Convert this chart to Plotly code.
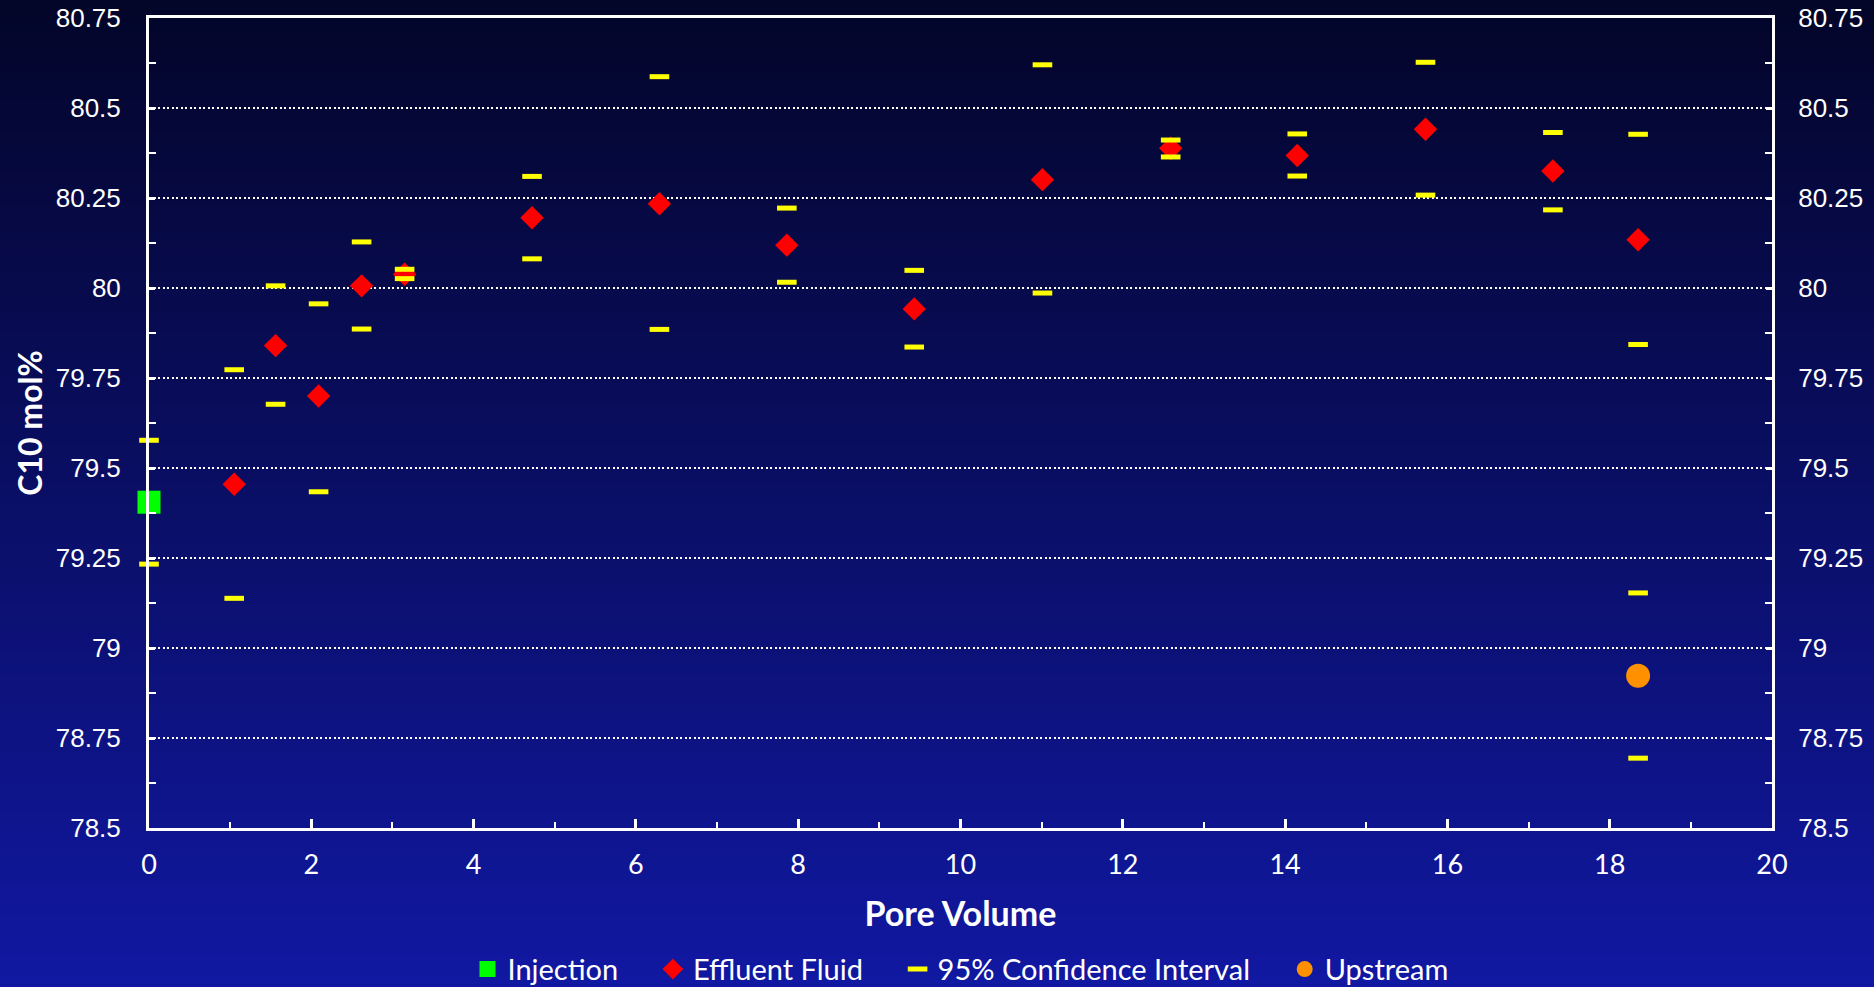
import plotly.graph_objects as go

# ---- data ----
inj_x = [0]
inj_y = [79.405]

eff_x = [1.05, 1.56, 2.09, 2.62, 3.15, 4.72, 6.29, 7.86, 9.43, 11.01, 12.59, 14.15, 15.73, 17.30, 18.35]
eff_y = [79.455, 79.84, 79.70, 80.006, 80.038, 80.195, 80.234, 80.119, 79.942, 80.301, 80.388, 80.368, 80.441, 80.325, 80.134]

ci_x = [0, 0, 1.05, 1.05, 1.56, 1.56, 2.09, 2.09, 2.62, 2.62, 3.15, 3.15, 4.72, 4.72, 6.29, 6.29,
        7.86, 7.86, 9.43, 9.43, 11.01, 11.01, 12.59, 12.59, 14.15, 14.15, 15.73, 15.73, 17.30, 17.30,
        18.35, 18.35, 18.35, 18.35]
ci_y = [79.577, 79.233, 79.773, 79.138, 80.006, 79.677, 79.956, 79.434, 80.128, 79.886, 80.052, 80.026,
        80.310, 80.081, 80.587, 79.885, 80.222, 80.016, 80.049, 79.836, 80.620, 79.986, 80.411, 80.364,
        80.428, 80.311, 80.627, 80.258, 80.432, 80.217, 80.427, 79.843, 79.153, 78.694]

ups_x = [18.35]
ups_y = [78.923]

y_tickvals = [78.5, 78.75, 79, 79.25, 79.5, 79.75, 80, 80.25, 80.5, 80.75]
y_ticktext = ["78.5", "78.75", "79", "79.25", "79.5", "79.75", "80", "80.25", "80.5", "80.75"]
x_tickvals = [0, 2, 4, 6, 8, 10, 12, 14, 16, 18, 20]

PAD = "\u00a0" * 4

fig = go.Figure()

fig.add_trace(go.Scatter(x=inj_x, y=inj_y, mode="markers", name="Injection" + PAD, cliponaxis=False,
                         marker=dict(symbol="square", size=23, color="#00ff00")))
fig.add_trace(go.Scatter(x=eff_x, y=eff_y, mode="markers", name="Effluent Fluid" + PAD, cliponaxis=False,
                         marker=dict(symbol="diamond", size=18, color="#ff0000")))
fig.add_trace(go.Scatter(x=ci_x, y=ci_y, mode="markers", name="95% Confidence Interval" + PAD, cliponaxis=False,
                         marker=dict(symbol="line-ew", size=14, color="#ffff00",
                                     line=dict(color="#ffff00", width=5))))
fig.add_trace(go.Scatter(x=ups_x, y=ups_y, mode="markers", name="Upstream", cliponaxis=False,
                         marker=dict(symbol="circle", size=24, color="#ff9000")))
# invisible trace for the right axis
fig.add_trace(go.Scatter(x=[None], y=[None], yaxis="y2", showlegend=False, hoverinfo="skip"))

# ---- gradient background via stacked bands (paper coords cover the whole page) ----
H_PLOT = 987 - 18 - 159
top = (3, 5, 40)
bot = (17, 24, 162)
n = 100
y_top = 1 + 18 / H_PLOT + 0.01
y_bot = -159 / H_PLOT - 0.01
shapes = []
for i in range(n):
    t = i / (n - 1)
    c = tuple(round(top[k] + (bot[k] - top[k]) * t) for k in range(3))
    y1 = y_top - (y_top - y_bot) * i / n + 0.001
    y0 = y_top - (y_top - y_bot) * (i + 1) / n - 0.001
    if i == 0:
        y1 += 0.05
    if i == n - 1:
        y0 -= 0.05
    shapes.append(dict(type="rect", xref="paper", yref="paper", x0=-0.2, x1=1.2, y0=y0, y1=y1,
                       fillcolor="rgb(%d,%d,%d)" % c, line=dict(width=0), layer="below"))

tick_font_y = dict(family="Liberation Sans, Arial, sans-serif", size=26, color="white")
minor_y = dict(dtick=0.125, ticks="inside", ticklen=7, tickwidth=2, tickcolor="white", showgrid=False)

fig.update_layout(
    width=1874, height=987,
    margin=dict(l=149, r=102, t=18, b=159, autoexpand=False),
    paper_bgcolor="rgb(10,14,100)",
    plot_bgcolor="rgba(0,0,0,0)",
    shapes=shapes,
    showlegend=True,
    legend=dict(orientation="h", x=0.5, xanchor="center", yref="container", y=0.018, yanchor="middle",
                font=dict(family="Lato, sans-serif", size=29, color="white"),
                bgcolor="rgba(0,0,0,0)", itemwidth=30, tracegroupgap=0),
    xaxis=dict(range=[0, 20], tickvals=x_tickvals, showline=True, linecolor="white", linewidth=3,
               mirror=True, ticks="inside", ticklen=9, tickwidth=3, tickcolor="white",
               minor=dict(dtick=1, ticks="inside", ticklen=6, tickwidth=2, tickcolor="white", showgrid=False),
               showgrid=False, zeroline=False, automargin=False,
               tickfont=dict(family="Lato, sans-serif", size=27, color="white"),
               ticklabelstandoff=11,
               title=dict(text="<b>Pore Volume</b>", font=dict(family="Lato, sans-serif", size=34, color="white"),
                          standoff=23)),
    yaxis=dict(range=[78.5, 80.75], tickvals=y_tickvals, ticktext=y_ticktext, showline=True,
               linecolor="white", linewidth=3, ticks="inside", ticklen=6, tickwidth=3, tickcolor="white",
               minor=minor_y, automargin=False,
               showgrid=True, gridcolor="white", gridwidth=2, griddash="2px,2.5px", zeroline=False,
               tickfont=tick_font_y, ticklabelstandoff=20,
               title=dict(text="<b>C10 mol%</b>", font=dict(family="Lato, sans-serif", size=32, color="white"),
                          standoff=4)),
    yaxis2=dict(range=[78.5, 80.75], tickvals=y_tickvals, ticktext=y_ticktext, overlaying="y", side="right",
                showline=True, linecolor="white", linewidth=3, ticks="inside", ticklen=6, tickwidth=3,
                tickcolor="white", minor=minor_y, automargin=False,
                showgrid=False, zeroline=False, tickfont=tick_font_y, ticklabelstandoff=18),
)

fig.write_html("out.html")
